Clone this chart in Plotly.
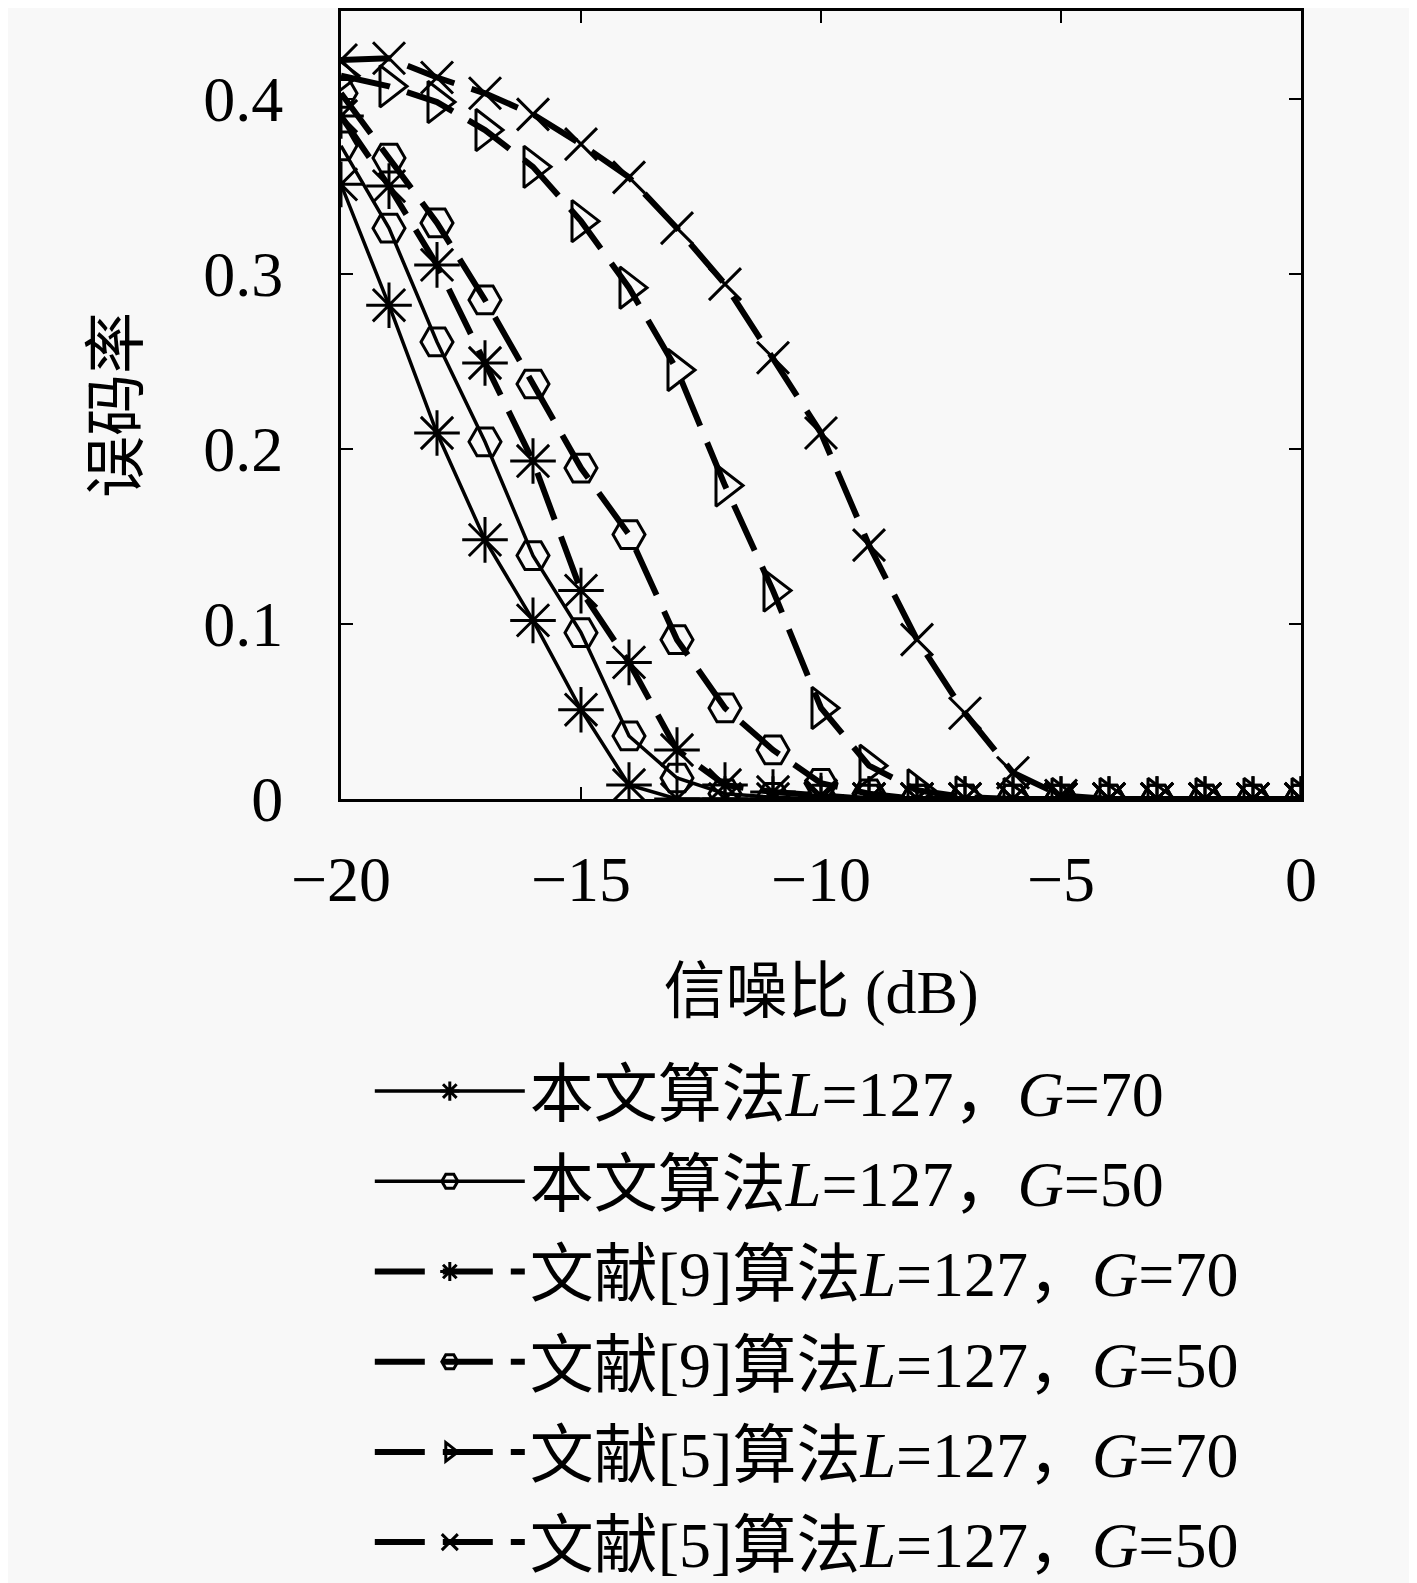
import plotly.graph_objects as go

# SNR axis (dB)
snr = list(range(-20, 1))

# bit error rate, one list per curve
ber_ours_g70 = [0.351, 0.282, 0.209, 0.148, 0.102, 0.051, 0.008, 0, 0, 0, 0,
                0, 0, 0, 0, 0, 0, 0, 0, 0, 0]
ber_ours_g50 = [0.373, 0.326, 0.261, 0.204, 0.139, 0.095, 0.036, 0.012, 0.003, 0.001, 0,
                0, 0, 0, 0, 0, 0, 0, 0, 0, 0]
ber_ref9_g70 = [0.390, 0.350, 0.305, 0.249, 0.193, 0.119, 0.078, 0.028, 0.008, 0.004, 0.002,
                0, 0, 0, 0, 0, 0, 0, 0, 0, 0]
ber_ref9_g50 = [0.403, 0.366, 0.329, 0.285, 0.237, 0.189, 0.151, 0.091, 0.052, 0.028, 0.009,
                0.003, 0, 0, 0, 0, 0, 0, 0, 0, 0]
ber_ref5_g70 = [0.413, 0.407, 0.398, 0.382, 0.361, 0.330, 0.292, 0.245, 0.179, 0.119, 0.052,
                0.019, 0.005, 0.001, 0, 0, 0, 0, 0, 0, 0]
ber_ref5_g50 = [0.422, 0.423, 0.412, 0.403, 0.391, 0.374, 0.355, 0.326, 0.294, 0.252, 0.209,
                0.145, 0.091, 0.049, 0.015, 0.002, 0, 0, 0, 0, 0]

names = [
    "本文算法<i>L</i>=127，<i>G</i>=70",
    "本文算法<i>L</i>=127，<i>G</i>=50",
    "文献[9]算法<i>L</i>=127，<i>G</i>=70",
    "文献[9]算法<i>L</i>=127，<i>G</i>=50",
    "文献[5]算法<i>L</i>=127，<i>G</i>=70",
    "文献[5]算法<i>L</i>=127，<i>G</i>=50",
]

FONT = "Liberation Serif, DejaVu Serif, Noto Sans CJK SC"
DASH = "50px,18px"

series = [
    (ber_ours_g70, "asterisk-open", 38, "solid", 3.5),
    (ber_ours_g50, "hexagon2-open", 32, "solid", 3.5),
    (ber_ref9_g70, "asterisk-open", 38, DASH, 6),
    (ber_ref9_g50, "hexagon2-open", 32, DASH, 6),
    (ber_ref5_g70, "triangle-right-open", 36, DASH, 6),
    (ber_ref5_g50, "x-thin-open", 32, DASH, 6),
]

fig = go.Figure()
for i, (vals, sym, size, dash, lw) in enumerate(series):
    fig.add_trace(go.Scatter(
        x=snr, y=vals, name=names[i], mode="lines+markers",
        legendgroup=str(i),
        line=dict(color="black", width=lw, dash=dash),
        marker=dict(symbol=sym, size=size, color="black",
                    line=dict(color="black", width=3)),
    ))

fig.update_layout(
    width=1417, height=1583,
    margin=dict(l=333, r=124, t=0, b=776),
    plot_bgcolor="#f8f8f8", paper_bgcolor="#f8f8f8",
    font=dict(family=FONT, size=64, color="black"),
    showlegend=True,
    legend=dict(x=0.03, y=-0.31, xanchor="left", yanchor="top",
                bgcolor="rgba(0,0,0,0)", tracegroupgap=4, itemwidth=150,
                font=dict(family=FONT, size=64)),
)
fig.update_xaxes(
    range=[-20, 0], tickvals=[-20, -15, -10, -5, 0],
    ticks="inside", ticklen=12, tickwidth=2, tickcolor="black",
    showline=True, linecolor="black", linewidth=3, mirror="ticks",
    showgrid=False, zeroline=False, ticklabelstandoff=22,
    tickfont=dict(family=FONT, size=64),
    title=dict(text="信噪比 (dB)", font=dict(family=FONT, size=62), standoff=56),
)
fig.update_yaxes(
    range=[0, 0.45], tickvals=[0, 0.1, 0.2, 0.3, 0.4],
    ticktext=["0", "0.1", "0.2", "0.3", "0.4"],
    ticks="inside", ticklen=12, tickwidth=2, tickcolor="black",
    showline=True, linecolor="black", linewidth=3, mirror="ticks",
    showgrid=False, zeroline=False, ticklabelstandoff=42,
    tickfont=dict(family=FONT, size=64),
    title=dict(text="误码率", font=dict(family=FONT, size=62), standoff=45),
)

fig.write_html("out.html")
